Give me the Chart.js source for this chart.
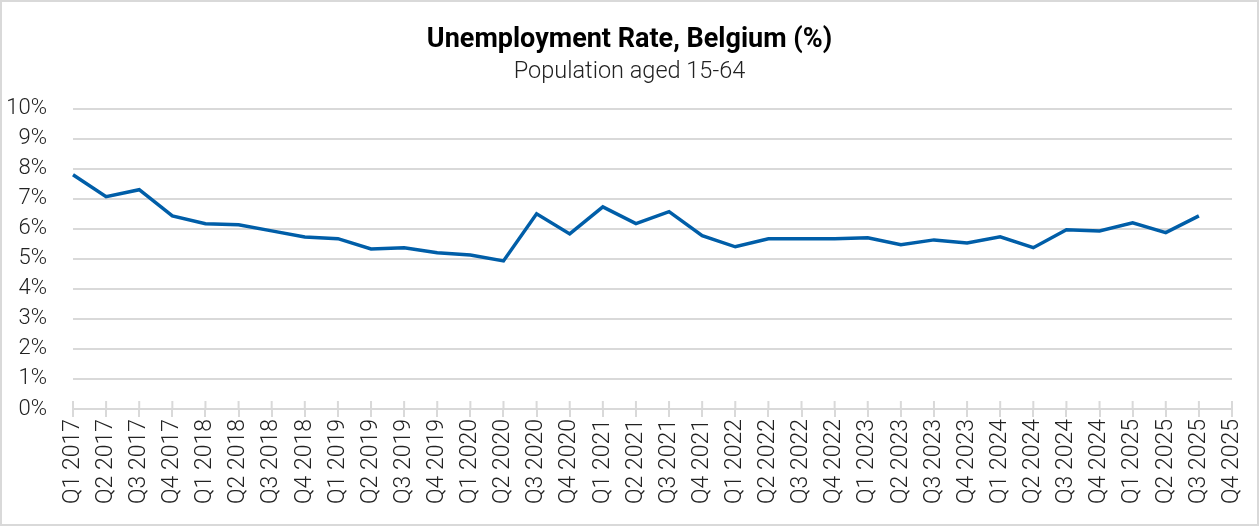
<!DOCTYPE html>
<html>
<head>
<meta charset="utf-8">
<script src="https://cdn.jsdelivr.net/npm/chart.js@4"></script>
<style>
  html, body { margin: 0; padding: 0; background: #fff; }
  #wrap {
    width: 1255px; height: 522px;
    border: 2px solid #d9d9d9;
    position: relative;
  }
</style>
</head>
<body>
<div id="wrap"><canvas id="myChart"></canvas></div>
<script>
'use strict';

const quarters = [
  'Q1 2017', 'Q2 2017', 'Q3 2017', 'Q4 2017',
  'Q1 2018', 'Q2 2018', 'Q3 2018', 'Q4 2018',
  'Q1 2019', 'Q2 2019', 'Q3 2019', 'Q4 2019',
  'Q1 2020', 'Q2 2020', 'Q3 2020', 'Q4 2020',
  'Q1 2021', 'Q2 2021', 'Q3 2021', 'Q4 2021',
  'Q1 2022', 'Q2 2022', 'Q3 2022', 'Q4 2022',
  'Q1 2023', 'Q2 2023', 'Q3 2023', 'Q4 2023',
  'Q1 2024', 'Q2 2024', 'Q3 2024', 'Q4 2024',
  'Q1 2025', 'Q2 2025', 'Q3 2025', 'Q4 2025'
];

// unemployment rate, % (Q4 2025 not yet available)
const unemployment = [
  7.8, 7.07, 7.3, 6.43,
  6.17, 6.13, 5.93, 5.73,
  5.67, 5.33, 5.37, 5.2,
  5.13, 4.93, 6.5, 5.83,
  6.73, 6.17, 6.57, 5.77,
  5.4, 5.67, 5.67, 5.67,
  5.7, 5.47, 5.63, 5.53,
  5.73, 5.37, 5.97, 5.93,
  6.2, 5.87, 6.43, null
];

const yTicks = [0, 1, 2, 3, 4, 5, 6, 7, 8, 9, 10];

const gridGrey = '#d9d9d9';
const lineBlue = '#005ea8';

// small tick marks that cross the x axis line (drawn above it, the axis draws the part below)
const tickMarksAbove = {
  id: 'tickMarksAbove',
  afterDatasetsDraw(chart) {
    const x = chart.scales.x;
    const c = chart.ctx;
    c.save();
    c.strokeStyle = gridGrey;
    c.lineWidth = 2;
    c.beginPath();
    x.ticks.forEach((t, i) => {
      const px = x.getPixelForTick(i);
      c.moveTo(px, x.top - 8);
      c.lineTo(px, x.top);
    });
    c.stroke();
    c.restore();
  }
};

let ctx = document.getElementById('myChart').getContext('2d');
let myChart = new Chart(ctx, {
  type: 'line',
  data: {
    labels: quarters,
    datasets: [{
      label: 'Unemployment rate',
      data: unemployment,
      borderColor: lineBlue,
      backgroundColor: lineBlue,
      borderWidth: 3.5,
      pointRadius: 0,
      tension: 0,
      spanGaps: false
    }]
  },
  plugins: [tickMarksAbove],
  options: {
    responsive: true,
    maintainAspectRatio: false,
    animation: false,
    layout: { padding: { left: 0, right: 0, top: 18, bottom: 18 } },
    plugins: {
      legend: { display: false },
      tooltip: { enabled: false },
      title: {
        display: true,
        text: 'Unemployment Rate, Belgium (%)',
        color: '#000',
        font: { family: 'Roboto', size: 27, weight: 'bold' },
        padding: { top: 4, bottom: 2 }
      },
      subtitle: {
        display: true,
        text: 'Population aged 15-64',
        color: '#222',
        font: { family: 'Roboto', size: 23.5, weight: '300' },
        padding: { top: 0, bottom: 22 }
      }
    },
    scales: {
      x: {
        offset: false,
        afterFit: (axis) => {
          axis.paddingRight = 25;
        },
        grid: {
          drawOnChartArea: false,
          drawTicks: true,
          tickLength: 8,
          color: gridGrey,
          lineWidth: 2
        },
        border: { display: true, color: gridGrey, width: 2 },
        ticks: {
          autoSkip: false,
          minRotation: 90,
          maxRotation: 90,
          color: '#222',
          padding: 2,
          font: { family: 'Roboto', size: 23, weight: '300' }
        }
      },
      y: {
        min: 0,
        max: 10,
        afterBuildTicks: (axis) => {
          axis.ticks = yTicks.map(v => ({ value: v }));
        },
        afterFit: (axis) => {
          axis.width = 71;
        },
        grid: {
          color: gridGrey,
          lineWidth: 2,
          drawTicks: false
        },
        border: { display: false },
        ticks: {
          color: '#222',
          padding: 26,
          font: { family: 'Roboto', size: 22, weight: '300' },
          callback: (v) => v + '%'
        }
      }
    }
  }
});
</script>
</body>
</html>
